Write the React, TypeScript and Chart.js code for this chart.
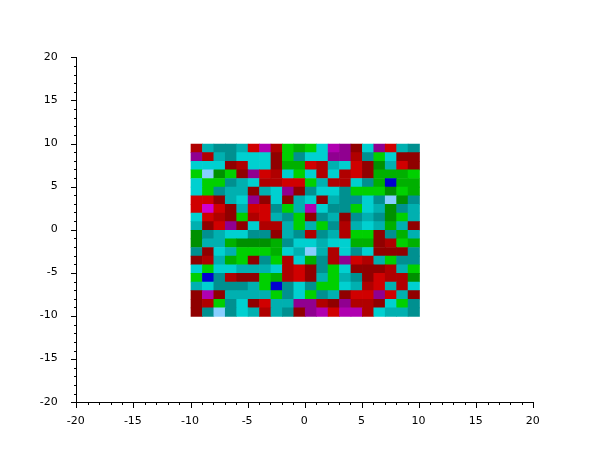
import React, { useEffect, useRef } from "react";
import { Chart, registerables } from "chart.js";

Chart.register(...registerables);

// Scilab colormap: index -> colour
const palette: Record<number, string> = {
  11: "#0000d0",
  12: "#87ceff",
  13: "#009000",
  14: "#00b000",
  15: "#00d000",
  16: "#009090",
  17: "#00b0b0",
  18: "#00d0d0",
  19: "#900000",
  20: "#b00000",
  21: "#d00000",
  22: "#900090",
  23: "#b000b0",
  24: "#d000d0",
};

// Top row first; left column first. Cell spans one unit, from -10 to 10 on both axes.
const row00 = [20,17,16,16,17,21,23,20,15,14,15,18,23,22,19,18,22,21,17,16];
const row01 = [22,20,17,16,18,18,18,19,15,16,18,18,22,22,20,16,15,18,19,19];
const row02 = [18,18,18,19,20,18,18,19,14,14,21,20,17,18,21,19,13,17,21,19];
const row03 = [15,12,13,15,19,22,21,20,18,15,18,20,18,20,21,19,14,14,14,15];
const row04 = [18,15,15,16,17,18,20,20,21,21,15,17,20,20,18,16,14,11,14,14];
const row05 = [18,15,16,17,17,19,17,18,22,19,16,18,18,16,15,15,15,13,15,14];
const row06 = [21,21,19,17,18,22,19,18,19,17,18,19,17,16,16,18,16,12,13,16];
const row07 = [21,24,21,19,17,21,21,16,15,17,23,18,16,16,15,18,17,13,16,17];
const row08 = [18,21,20,19,15,20,21,17,16,15,19,16,17,19,16,17,16,13,15,17];
const row09 = [17,19,21,22,19,18,20,20,17,15,17,15,16,20,17,18,17,14,17,19];
const row10 = [13,16,17,18,18,16,16,19,17,16,20,16,17,20,15,15,19,16,14,17];
const row11 = [13,17,17,14,13,13,13,14,16,18,18,17,18,18,14,14,19,20,15,14];
const row12 = [16,19,18,17,15,15,15,14,18,17,12,17,20,18,16,18,19,19,19,16];
const row13 = [19,20,17,14,15,19,16,15,20,18,14,16,20,22,21,20,17,15,16,16];
const row14 = [18,15,18,18,17,17,17,18,20,21,19,16,15,18,19,19,19,20,17,15];
const row15 = [15,11,16,20,19,19,15,14,20,21,19,17,15,17,16,19,21,20,20,13];
const row16 = [17,18,16,16,16,17,15,11,16,18,16,15,15,18,17,20,21,17,20,18];
const row17 = [19,23,19,17,17,17,17,15,16,18,15,16,17,19,21,21,22,21,17,19];
const row18 = [19,20,15,16,18,19,21,17,17,22,22,20,19,22,20,20,19,18,15,16];
const row19 = [19,16,12,16,18,17,20,17,16,19,22,23,21,23,23,20,18,17,17,16];

const rows = [row00,row01,row02,row03,row04,row05,row06,row07,row08,row09,row10,row11,row12,row13,row14,row15,row16,row17,row18,row19];

const FONT = { family: "'DejaVu Sans'", size: 11 };

const outsideTicks = {
  id: "outsideTicks",
  afterDraw(chart: any) {
    const { ctx } = chart;
    const sx = chart.scales.x;
    const sy = chart.scales.y;
    ctx.save();
    ctx.strokeStyle = "#000";
    ctx.lineWidth = 1;
    ctx.beginPath();
    for (let v = -20; v <= 20; v++) {
      const len = v % 5 === 0 ? 6 : 3;
      const px = Math.floor(sx.getPixelForValue(v)) + 0.5;
      ctx.moveTo(px, Math.floor(sx.top));
      ctx.lineTo(px, Math.floor(sx.top) + len);
      const py = Math.floor(sy.getPixelForValue(v)) + 0.5;
      ctx.moveTo(Math.floor(sy.right) + 1, py);
      ctx.lineTo(Math.floor(sy.right) + 1 - len, py);
    }
    ctx.stroke();
    ctx.restore();
  },
};

export default function App() {
  const ref = useRef<HTMLCanvasElement>(null);
  useEffect(() => {
    document.body.style.margin = "0";
    const cells: any[] = [];
    const colours: string[] = [];
    rows.forEach((row, r) =>
      row.forEach((c, k) => {
        cells.push({ x: k - 9.5, y: [9 - r, 10 - r] });
        colours.push(palette[c]);
      })
    );
    const chart = new Chart(ref.current as HTMLCanvasElement, {
      type: "bar",
      data: {
        datasets: [
          {
            data: cells,
            backgroundColor: colours,
            borderWidth: 0,
            barPercentage: 1,
            categoryPercentage: 1,
          },
        ],
      },
      options: {
        animation: false,
        responsive: false,
        layout: { padding: { top: 57.75, right: 76.25, left: 0, bottom: 0 } },
        plugins: { legend: { display: false }, tooltip: { enabled: false } },
        scales: {
          x: {
            type: "linear",
            min: -20,
            max: 20,
            offset: false,
            grid: { display: false },
            border: { display: true, color: "#000", width: 1 },
            ticks: { stepSize: 5, color: "#000", font: FONT, padding: 4, maxRotation: 0, autoSkip: false, labelOffset: -1 },
            afterFit(s: any) { s.height = 57.25; },
          },
          y: {
            type: "linear",
            min: -20,
            max: 20,
            grid: { display: false },
            border: { display: true, color: "#000", width: 1 },
            ticks: { stepSize: 5, color: "#000", font: FONT, padding: 11, autoSkip: false, labelOffset: -1 },
            afterFit(s: any) { s.width = 76.75; },
          },
        },
      } as any,
      plugins: [outsideTicks],
    });
    return () => chart.destroy();
  }, []);
  return <canvas ref={ref} width={610} height={460} style={{ display: "block" }} />;
}
